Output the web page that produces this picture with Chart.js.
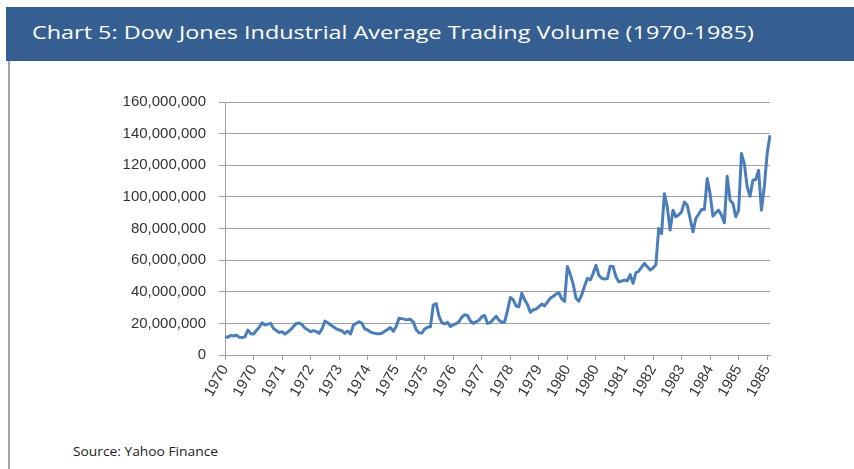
<!DOCTYPE html>
<html>
<head>
<meta charset="utf-8">
<script src="https://cdn.jsdelivr.net/npm/chart.js@4/dist/chart.umd.min.js"></script>
<style>
  html, body { margin: 0; padding: 0; background: #fff; }
  body { width: 854px; height: 469px; position: relative; overflow: hidden; }
  #header { position: absolute; left: 6px; top: 7px; width: 848px; height: 54px; background: #365f91; }
  #title { position: absolute; left: 26px; top: 12px; font: 400 19px "Open Sans", Lato, sans-serif; color: #fff;
           white-space: nowrap; line-height: 26px; transform-origin: left center; }
  #frameLeft { position: absolute; left: 8px; top: 61px; width: 2px; height: 408px; background: #a6a6a6; }
  #chartBox { position: absolute; left: 0; top: 61px; width: 854px; height: 370px; }
  #source { position: absolute; left: 73px; top: 443px; font: 400 12px "Open Sans", Lato, sans-serif; color: #222;
            white-space: nowrap; line-height: 18px; transform-origin: left center; }
</style>
</head>
<body>
<div id="header"><div id="title">Chart 5: Dow Jones Industrial Average Trading Volume (1970-1985)</div></div>
<div id="frameLeft"></div>
<div id="chartBox"><canvas id="volumeChart" width="854" height="370"></canvas></div>
<div id="source">Source: Yahoo Finance</div>
<script>
// monthly volume, Jan 1970 .. Dec 1985, in millions of shares
const volumeMillions = [
  11.6, 11.2, 12.4, 12.0, 12.6, 11.2, 11.0, 11.5, 15.8, 13.5,
  13.3, 15.5, 17.5, 20.4, 19.0, 19.5, 20.0, 16.8, 15.5, 14.3,
  14.7, 13.3, 14.5, 16.0, 18.0, 20.0, 20.2, 19.2, 17.0, 16.0,
  14.7, 15.4, 14.8, 13.7, 16.5, 21.4, 20.4, 19.0, 17.9, 16.5,
  15.8, 15.3, 13.7, 15.2, 13.3, 19.0, 20.0, 21.0, 20.0, 16.5,
  15.8, 14.5, 13.9, 13.5, 13.4, 13.8, 15.0, 16.2, 17.3, 15.0,
  18.0, 23.2, 23.0, 22.5, 22.3, 22.6, 20.8, 16.0, 14.1, 13.9,
  16.5, 17.6, 17.8, 31.6, 32.6, 24.5, 20.5, 19.6, 20.6, 18.0,
  19.0, 19.8, 21.0, 24.0, 25.5, 25.0, 21.5, 20.0, 21.0, 22.0,
  24.2, 25.0, 20.0, 20.5, 22.5, 24.5, 22.1, 20.6, 21.0, 28.0,
  36.4, 35.0, 31.0, 30.5, 39.0, 35.0, 32.0, 27.0, 28.5, 29.0,
  30.5, 32.2, 31.0, 33.5, 36.0, 37.0, 38.5, 39.4, 35.5, 33.9,
  56.0, 51.0, 45.0, 36.0, 34.0, 38.0, 43.5, 48.5, 47.4, 51.5,
  56.8, 50.5, 48.5, 48.0, 48.3, 56.2, 56.0, 49.5, 46.3, 46.8,
  47.4, 47.0, 50.9, 45.3, 52.0, 53.0, 55.5, 57.9, 55.8, 53.7,
  55.0, 57.0, 80.0, 76.8, 102.0, 93.7, 79.0, 91.6, 87.4, 88.5,
  90.5, 96.8, 94.7, 86.3, 77.9, 86.3, 89.0, 92.0, 92.0, 111.6,
  102.0, 87.8, 90.0, 91.6, 88.4, 83.6, 113.0, 97.9, 96.0, 87.4,
  91.6, 127.4, 121.0, 106.3, 100.4, 110.5, 111.0, 116.8, 91.6, 106.3,
  127.4, 139.0,
];

// one label every 10 months, as printed on the axis
const tickYears = [
  "1970", "1970", "1971", "1972", "1973", "1974", "1975", "1975", "1976", "1977",
  "1978", "1979", "1980", "1980", "1981", "1982", "1983", "1984", "1985", "1985",
];
const tickEvery = 10;

const yMax = 160;
const yStep = 20;

const axisFont = { family: "'Liberation Sans', Arial, sans-serif", size: 15 };
const axisColor = "#333";
const gridColor = "#a0a0a0";

function fitWidth(el, target) {
  const w = el.getBoundingClientRect().width;
  if (w > 0) el.style.transform = `scaleX(${target / w})`;
}
fitWidth(document.querySelector("#title"), 722);
fitWidth(document.querySelector("#source"), 145);

const labels = volumeMillions.map((_, i) => (i % tickEvery === 0 ? tickYears[i / tickEvery] : ""));

new Chart(document.querySelector("#volumeChart"), {
  type: "line",
  data: {
    labels,
    datasets: [
      {
        data: volumeMillions,
        borderColor: "#4a7ebb",
        borderWidth: 3,
        pointRadius: 0,
        tension: 0,
        borderJoinStyle: "round",
        fill: false,
      },
    ],
  },
  options: {
    responsive: false,
    animation: false,
    devicePixelRatio: 1,
    layout: { padding: { top: 41, right: 84, bottom: 0, left: 0 } },
    plugins: { legend: { display: false }, tooltip: { enabled: false } },
    scales: {
      x: {
        offset: false,
        grid: { drawOnChartArea: false, drawTicks: true, tickLength: 5, color: gridColor },
        border: { display: true, color: gridColor },
        ticks: {
          autoSkip: false,
          minRotation: 60,
          maxRotation: 60,
          padding: 2,
          font: axisFont,
          color: axisColor,
          callback: (value, index) => (index % tickEvery === 0 ? tickYears[index / tickEvery] : null),
        },
        afterFit: (scale) => { scale.height = 76; },
      },
      y: {
        min: 0,
        max: yMax,
        grid: { color: gridColor, tickLength: 6, drawTicks: true },
        border: { display: true, color: gridColor },
        ticks: {
          stepSize: yStep,
          padding: 13,
          font: axisFont,
          color: axisColor,
          callback: (value) => (value * 1000000).toLocaleString("en-US"),
        },
        afterFit: (scale) => { scale.width = 225; },
      },
    },
  },
});
</script>
</body>
</html>
